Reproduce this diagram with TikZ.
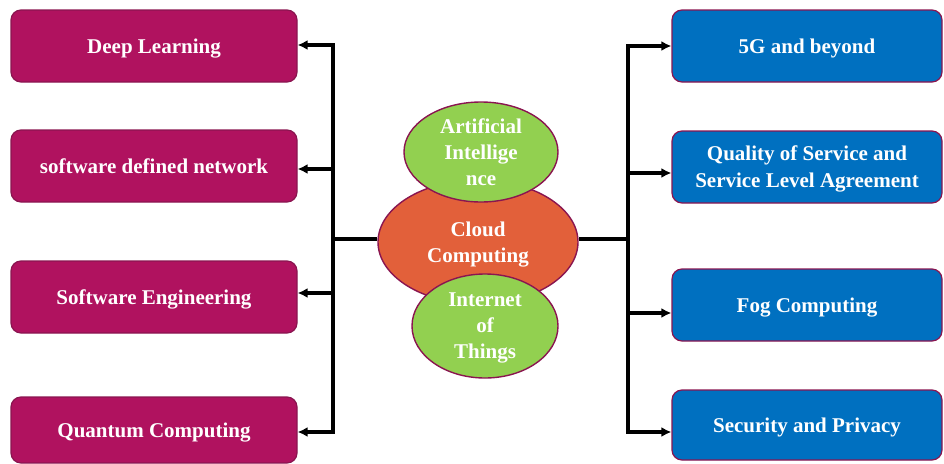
\documentclass[tikz,border=0pt]{standalone}
\usepackage{fontspec}
\setmainfont{Liberation Serif}
\usetikzlibrary{arrows.meta,shapes.geometric}
\definecolor{magbox}{HTML}{B0125F}
\definecolor{bluebox}{HTML}{0070C0}
\definecolor{orangeel}{HTML}{E2603A}
\definecolor{greenel}{HTML}{92D050}
\definecolor{edgecol}{HTML}{8A1550}
\begin{document}
\begin{tikzpicture}[x=1pt,y=-1pt,
  boxbase/.style={rectangle,rounded corners=10pt,draw=edgecol,line width=1.2pt,
    text=white,font=\fontsize{21}{27}\selectfont\bfseries,align=center,inner sep=2pt,
    text depth=0pt},
  leftbox/.style={boxbase,fill=magbox,minimum width=286pt,minimum height=72pt},
  rightbox/.style={boxbase,fill=bluebox,minimum width=270pt,minimum height=72pt},
  elbase/.style={ellipse,draw=edgecol,line width=1.4pt,text=white,
    font=\fontsize{21}{26}\selectfont\bfseries,align=center,inner sep=0pt},
  conn/.style={line width=3.2pt,black},
  arr/.style={conn,-{Latex[length=10pt,width=10pt]}}]
\useasboundingbox (0,0) rectangle (944,463);
% left boxes
\node[leftbox] (dl) at (154,46) {Deep Learning};
\node[leftbox] (sdn) at (154,166) {software defined network};
\node[leftbox] (se) at (154,297) {Software Engineering};
\node[leftbox,minimum height=66pt] (qc) at (154,430) {Quantum Computing};
% right boxes
\node[rightbox] (fiveg) at (807,46) {5G and beyond};
\node[rightbox] (qos) at (807,167) {Quality of Service and\\Service Level Agreement};
\node[rightbox] (fog) at (807,305) {Fog Computing};
\node[rightbox,minimum height=70pt] (sec) at (807,425) {Security and Privacy};
% central ellipses
\node[elbase,fill=orangeel,minimum width=200pt,minimum height=124pt,text depth=0pt] (cc) at (478,242) {Cloud\\Computing};
\node[elbase,fill=greenel,minimum width=154pt,minimum height=100pt] (ai) at (481,152) {Artificial\\Intellige\\nce};
\node[elbase,fill=greenel,minimum width=146pt,minimum height=104pt,text depth=0pt] (iot) at (485,326) {Internet\\of\\Things};
% buses
\coordinate (lbus) at (333,239);
\coordinate (rbus) at (628,239);
\draw[conn] (cc.west |- lbus) -- (lbus);
\draw[conn] (cc.east |- rbus) -- (rbus);
\draw[arr] (lbus) |- ([yshift=1pt]dl.east);
\draw[arr] (lbus) |- ([yshift=-3pt]sdn.east);
\draw[arr] (lbus) |- ([yshift=4pt]se.east);
\draw[arr] (lbus) |- ([yshift=-2pt]qc.east);
\draw[arr] (rbus) |- (fiveg.west);
\draw[arr] (rbus) |- ([yshift=-6pt]qos.west);
\draw[arr] (rbus) |- ([yshift=-8pt]fog.west);
\draw[arr] (rbus) |- ([yshift=-7pt]sec.west);
\end{tikzpicture}
\end{document}
